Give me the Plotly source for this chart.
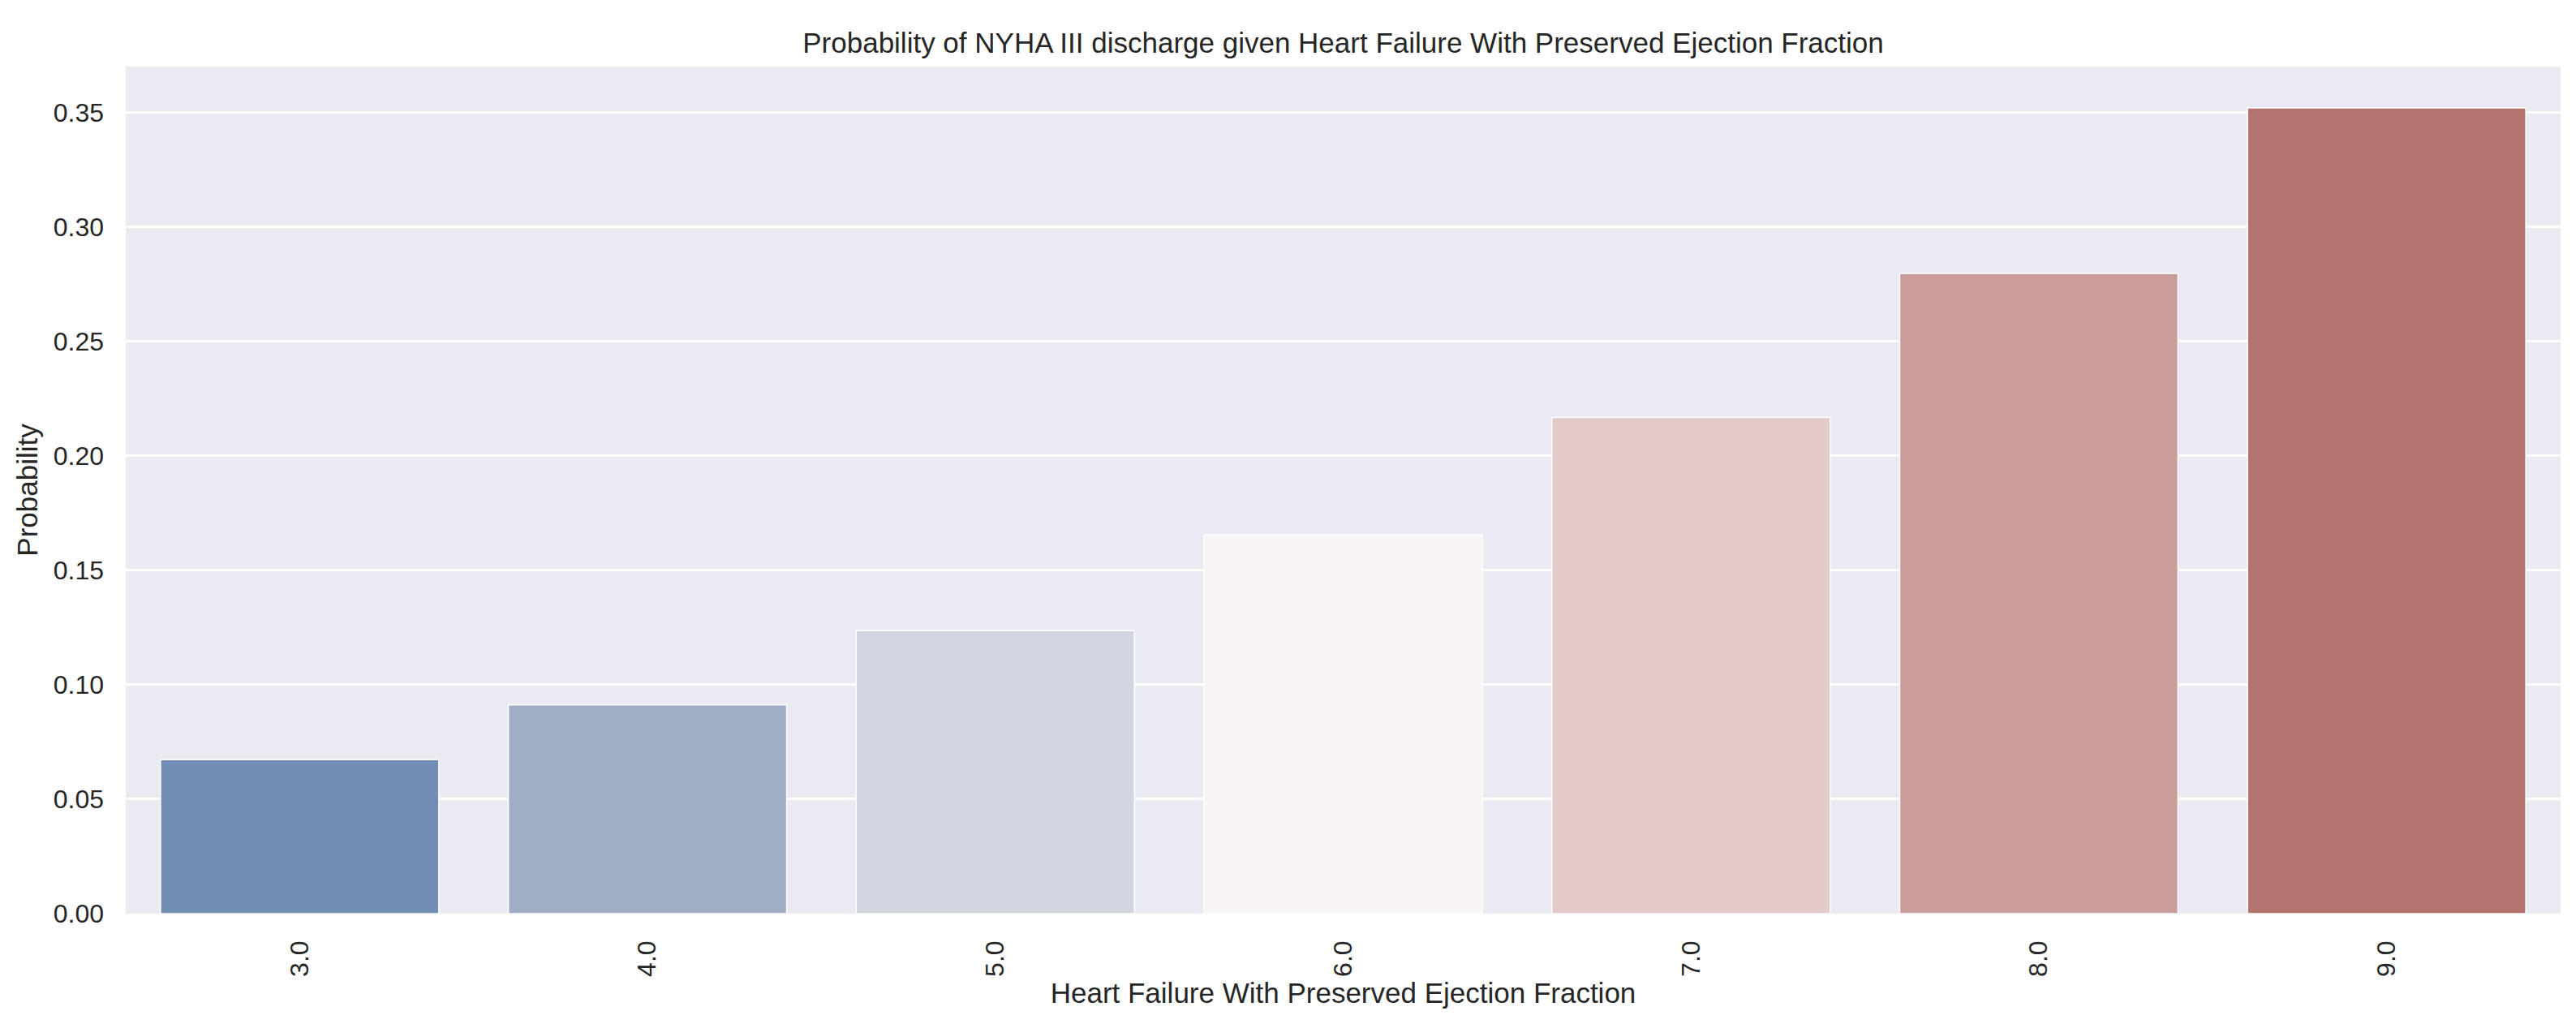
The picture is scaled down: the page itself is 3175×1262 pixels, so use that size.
import plotly.graph_objects as go

categories = ["3.0", "4.0", "5.0", "6.0", "7.0", "8.0", "9.0"]
probabilities = [0.0673, 0.0912, 0.1236, 0.1655, 0.2168, 0.2797, 0.3520]
bar_colors = ["#718db3", "#a0aec5", "#d0d5df", "#f8f4f3", "#e3cac9", "#ca9d9a", "#b37470"]
y_ticks = [0.0, 0.05, 0.10, 0.15, 0.20, 0.25, 0.30, 0.35]

TXT = "#262626"
FONT = "Liberation Sans, Arial, sans-serif"

L, R, T, B = 147, 27, 74, 144
W, H = 3175, 1262

fig = go.Figure(
    go.Bar(
        x=categories,
        y=probabilities,
        width=0.8,
        marker=dict(color=bar_colors, line=dict(color="white", width=1.5)),
    )
)

fig.update_layout(
    width=W,
    height=H,
    margin=dict(l=L, r=R, t=T, b=B, autoexpand=False),
    paper_bgcolor="white",
    plot_bgcolor="#eaeaf2",
    showlegend=False,
    font=dict(family=FONT, color=TXT),
    title=dict(
        text="Probability of NYHA III discharge given Heart Failure With Preserved Ejection Fraction",
        x=0.5 * (L + W - R) / W,
        xanchor="center",
        y=1 - 45 / H,
        yanchor="middle",
        font=dict(size=35, color=TXT, family=FONT),
    ),
)

fig.update_xaxes(
    type="category",
    range=[-0.5, 6.5],
    tickangle=-90,
    tickfont=dict(size=32, color=TXT),
    ticklabelstandoff=26,
    showgrid=False,
    zeroline=False,
    showline=False,
    automargin=False,
    title=dict(text="Heart Failure With Preserved Ejection Fraction", font=dict(size=35, color=TXT), standoff=8),
)

fig.update_yaxes(
    range=[0, 0.3701],
    tickvals=y_ticks,
    tickformat=".2f",
    tickfont=dict(size=32, color=TXT),
    ticklabelstandoff=26,
    showgrid=True,
    gridcolor="white",
    gridwidth=3,
    zeroline=False,
    showline=False,
    automargin=False,
    title=dict(text="Probability", font=dict(size=35, color=TXT), standoff=8),
)

fig.write_html("out.html")
